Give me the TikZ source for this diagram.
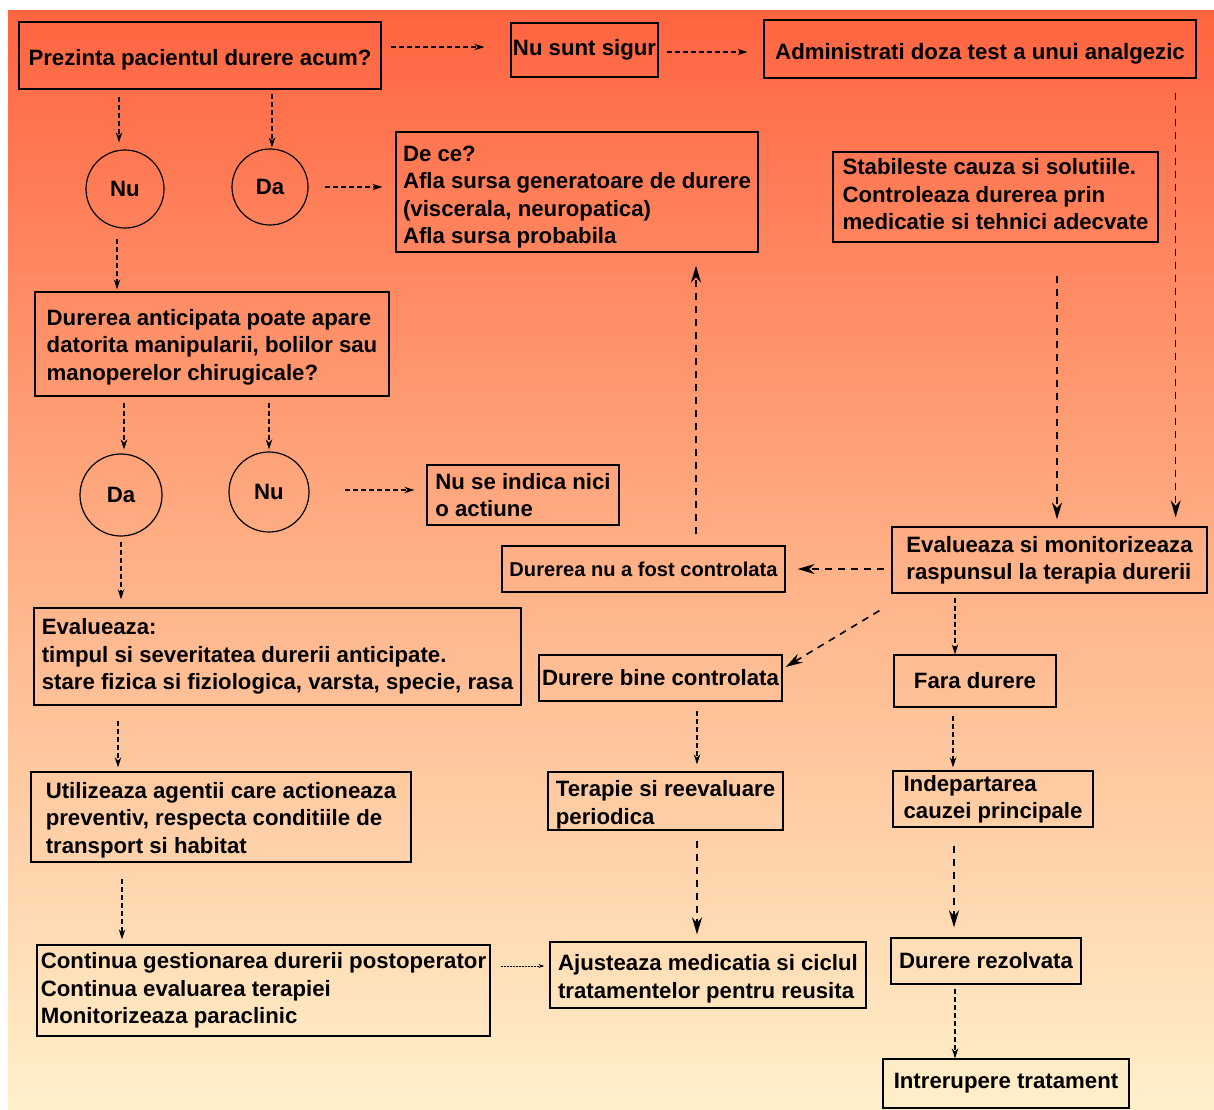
\documentclass[tikz,border=0pt]{standalone}
\usepackage{fontspec}
\setmainfont{Liberation Sans}
\usepackage{tikz}
\usetikzlibrary{arrows.meta,calc}

\definecolor{bgtop}{HTML}{FF6440}
\definecolor{bgmid}{HTML}{FFB086}
\definecolor{bgbot}{HTML}{FFF0CA}

\newcommand{\dn}[1]{\rule{0pt}{#1pt}}
\newcommand{\up}[1]{\rule[-#1pt]{0pt}{0pt}}

\tikzset{
  box/.style={draw, line width=1.3pt, align=left, inner sep=0pt,
    font=\fontsize{22.2}{27.5}\selectfont\bfseries},
  ring/.style={circle, draw, line width=1.2pt, minimum size=78pt, inner sep=0pt,
    font=\fontsize{22.2}{27.5}\selectfont\bfseries},
  arrS/.style={line width=1.3pt, dash pattern=on 5pt off 3pt, -{Stealth[length=10pt,width=6.5pt]}},
  arrB/.style={line width=1.6pt, dash pattern=on 7pt off 6pt, -{Stealth[length=17pt,width=10pt]}},
  arrD/.style={line width=0.9pt, dash pattern=on 2pt off 1pt, -{Stealth[length=6pt,width=4pt]}}
}

\begin{document}
\begin{tikzpicture}[x=1pt, y=-1pt]
  \useasboundingbox (0,0) rectangle (1214,1109);
  \shade[top color=bgtop, bottom color=bgbot, middle color=bgmid] (8,10) rectangle (1214,1109);

  % left column
  \node[box, align=center, minimum width=362pt, minimum height=67pt] (P) at (200,55.5) {\dn{24}Prezinta pacientul durere acum?};
  \node[ring] (NuA) at (125,189) {Nu};
  \node[ring, minimum size=76pt] (DaA) at (270,187) {Da};
  \node[box, minimum width=354pt, minimum height=104pt] (Antic) at (212,344) {\dn{22}Durerea anticipata poate apare\\datorita manipularii, bolilor sau\\manoperelor chirugicale?};
  \node[ring, minimum size=82pt] (DaB) at (121,495) {Da};
  \node[ring, minimum size=80pt] (NuB) at (269,492) {Nu};
  \node[box, minimum width=487pt, minimum height=97pt] (EvalA) at (277.5,656.5) {Evalueaza:\\timpul si severitatea durerii anticipate.\\stare fizica si fiziologica, varsta, specie, rasa\up{3}};
  \node[box, minimum width=380pt, minimum height=90pt] (Util) at (221,817) {\dn{22}Utilizeaza agentii care actioneaza\\preventiv, respecta conditiile de\\transport si habitat};
  \node[box, minimum width=453pt, minimum height=91pt] (Cont) at (263.5,990.5) {Continua gestionarea durerii postoperator\\Continua evaluarea terapiei\\Monitorizeaza paraclinic};

  % middle column
  \node[box, align=center, minimum width=147pt, minimum height=54pt] (NuSigur) at (584.5,50) {Nu sunt sigur};
  \node[box, minimum width=362pt, minimum height=120pt] (DeCe) at (577,192) {\dn{26}De ce?\\Afla sursa generatoare de durere\\(viscerala, neuropatica)\\Afla sursa probabila};
  \node[box, minimum width=192pt, minimum height=60pt] (Nimic) at (523,495) {Nu se indica nici\\o actiune};
  \node[box, minimum width=283pt, minimum height=46pt, font=\fontsize{20.1}{25}\selectfont\bfseries] (NuCtrl) at (643.5,569) {Durerea nu a fost controlata};
  \node[box, minimum width=243pt, minimum height=46pt] (BineCtrl) at (660.5,678) {Durere bine controlata};
  \node[box, minimum width=235pt, minimum height=58pt] (Terapie) at (665.5,801) {\dn{24}Terapie si reevaluare\\periodica};
  \node[box, minimum width=316pt, minimum height=66pt] (Ajust) at (708,975) {\dn{24}Ajusteaza medicatia si ciclul\\tratamentelor pentru reusita};

  % right column
  \node[box, align=center, minimum width=432pt, minimum height=58pt] (Admin) at (980,49) {\dn{26}Administrati doza test a unui analgezic};
  \node[box, minimum width=325pt, minimum height=90pt] (Stab) at (995.5,197) {Stabileste cauza si solutiile.\\Controleaza durerea prin\\medicatie si tehnici adecvate\up{6}};
  \node[box, minimum width=315pt, minimum height=66pt] (EvalM) at (1049.5,560) {Evalueaza si monitorizeaza\\raspunsul la terapia durerii};
  \node[box, align=center, minimum width=162pt, minimum height=52pt] (Fara) at (975,681) {Fara durere};
  \node[box, minimum width=200pt, minimum height=56pt] (Indep) at (993,799) {Indepartarea\\cauzei principale};
  \node[box, minimum width=190pt, minimum height=46pt] (Rezolv) at (986,961) {Durere rezolvata};
  \node[box, minimum width=246pt, minimum height=49pt] (Intrer) at (1006,1083.5) {Intrerupere tratament\up{6}};

  % connectors
  \draw[arrS, shorten <=7pt, shorten >=7pt] ($(NuA.north |- P.south)+(-6,0)$) -- ($(NuA.north)+(-6,0)$);
  \draw[arrS, shorten <=4pt, shorten >=1pt] ($(DaA.north |- P.south)+(2,0)$) -- ($(DaA.north)+(2,0)$);
  \draw[arrS, shorten <=16pt, shorten >=13pt] (DaA.east) -- (DaA.east -| DeCe.west);
  \draw[arrS, shorten <=9pt, shorten >=26pt] ($(NuSigur.west -| P.east)+(0,-3)$) -- ($(NuSigur.west)+(0,-3)$);
  \draw[arrS, shorten <=8pt, shorten >=16pt] ($(NuSigur.east)+(0,2)$) -- ($(NuSigur.east -| Admin.west)+(0,2)$);
  \draw[arrS, shorten <=10pt, shorten >=2pt] ($(NuA.south)+(-8,0)$) -- ($(NuA.south |- Antic.north)+(-8,0)$);
  \draw[arrS, shorten <=6pt, shorten >=4pt] ($(DaB.north |- Antic.south)+(3,0)$) -- ($(DaB.north)+(3,0)$);
  \draw[arrS, shorten <=6pt, shorten >=2pt] (NuB.north |- Antic.south) -- (NuB.north);
  \draw[arrS, shorten <=35pt, shorten >=12pt] ($(NuB.east)+(0,-2)$) -- ($(NuB.east -| Nimic.west)+(0,-2)$);
  \draw[arrS, shorten <=5pt, shorten >=8pt] (DaB.south) -- (DaB.south |- EvalA.north);
  \draw[arrS, shorten <=15pt, shorten >=4pt] ($(EvalA.south -| DaB.south)+(-3,0)$) -- ($(Util.north -| DaB.south)+(-3,0)$);
  \draw[arrS, shorten <=16pt, shorten >=5pt] ($(Util.south -| DaB.south)+(1,0)$) -- ($(Cont.north -| DaB.south)+(1,0)$);
  \draw[arrD, shorten <=10pt, shorten >=5pt] ($(Ajust.west -| Cont.east)+(0,-9)$) -- ($(Ajust.west)+(0,-9)$);

  \draw[arrB, shorten <=11pt, shorten >=13pt] ($(NuCtrl.north)+(52.5,0)$) -- ($(NuCtrl.north |- DeCe.south)+(52.5,0)$);
  \draw[arrB, shorten <=33pt, shorten >=7pt] ($(EvalM.north |- Stab.south)+(7.5,0)$) -- ($(EvalM.north)+(7.5,0)$);
  \draw[arrB, shorten <=14pt, shorten >=9pt] ($(EvalM.north east |- Admin.south)+(-32,0)$) -- ($(EvalM.north east)+(-32,0)$);
  \draw[arrB, shorten <=7pt, shorten >=12pt] (NuCtrl.east -| EvalM.west) -- (NuCtrl.east);
  \draw[arrB] ($(EvalM.south west)+(-12,17)$) -- ($(BineCtrl.east)+(3,-11)$);
  \draw[arrS, shorten <=4pt] ($(EvalM.south -| Fara.north)+(-20,0)$) -- ($(Fara.north)+(-20,0)$);
  \draw[arrS, shorten <=9pt, shorten >=7pt] ($(BineCtrl.south -| Terapie.north)+(31.5,0)$) -- ($(Terapie.north)+(31.5,0)$);
  \draw[arrB, shorten <=10pt, shorten >=7pt] ($(Terapie.south)+(31.5,0)$) -- ($(Terapie.south |- Ajust.north)+(31.5,0)$);
  \draw[arrS, shorten <=8pt, shorten >=3pt] ($(Fara.south)+(-22,0)$) -- ($(Fara.south |- Indep.north)+(-22,0)$);
  \draw[arrB, shorten <=18pt, shorten >=10pt] ($(Rezolv.north |- Indep.south)+(-32,0)$) -- ($(Rezolv.north)+(-32,0)$);
  \draw[arrS, shorten <=4pt] ($(Rezolv.south)+(-31,0)$) -- ($(Rezolv.south |- Intrer.north)+(-31,0)$);
\end{tikzpicture}
\end{document}
